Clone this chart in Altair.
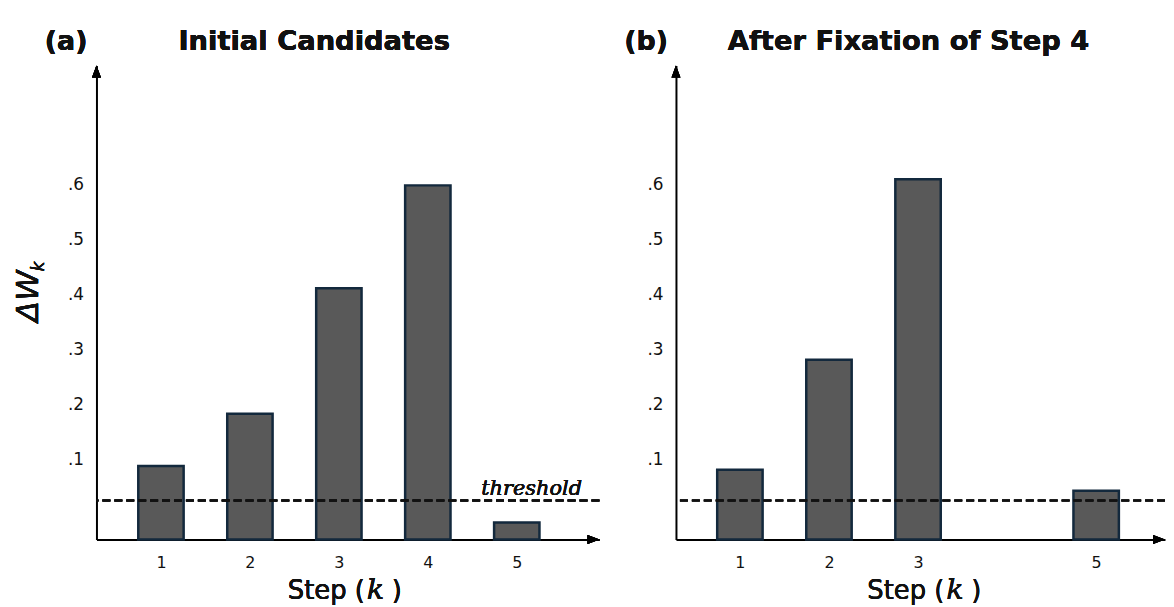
import altair as alt
import pandas as pd

# ---- data ----
steps_a = [1, 2, 3, 4, 5]
dw_a = [0.089, 0.184, 0.412, 0.599, -0.014]
steps_b = [1, 2, 3, 5]
dw_b = [0.082, 0.282, 0.610, 0.044]
threshold = 0.026
y_ticks = [0.1, 0.2, 0.3, 0.4, 0.5, 0.6]
y_dom = [-0.045, 0.817]
x_dom_a = [0.275, 5.929]
x_dom_b = [0.282, 5.773]
tag_a, title_a = "(a)", "Initial Candidates"
tag_b, title_b = "(b)", "After Fixation of Step 4"
x_title, x_title_var = "Step (", "k"
y_title, y_title_sub = "\u0394W", "k"
thr_label = "threshold"

FONT = "DejaVu Sans"
BAR_FILL = "#595959"
BAR_STROKE = "#13293d"
H = 477


def panel(steps, vals, xdom, width, tag, title, title_x, show_y_title, show_thr_label):
    df = pd.DataFrame({"k": steps, "dw": vals})
    xscale = alt.Scale(domain=xdom, nice=False, zero=False)
    yscale = alt.Scale(domain=y_dom, nice=False, zero=False)
    xaxis = alt.Axis(values=steps, format="d", labelFontSize=16, labelFont=FONT,
                     labelColor="#111", labelPadding=15, ticks=False, tickSize=0,
                     grid=False, domainColor="black", domainWidth=2, labelAngle=0,
                     labelFlush=False, title=None)
    yaxis = alt.Axis(values=y_ticks, labelExpr="'.' + round(datum.value * 10)",
                     labelFontSize=17, labelFont=FONT, labelColor="#111",
                     labelPadding=13, ticks=False, tickSize=0, grid=False,
                     domainColor="black", domainWidth=2, title=None)

    bars = alt.Chart(df).transform_calculate(
        x0="datum.k - 0.255", x1="datum.k + 0.255"
    ).mark_bar(fill=BAR_FILL, stroke=BAR_STROKE, strokeWidth=2.5).encode(
        x=alt.X("x0:Q", scale=xscale, axis=xaxis, title=None),
        x2="x1:Q",
        y=alt.Y("dw:Q", scale=yscale, axis=yaxis, title=None),
        y2=alt.Y2(datum=y_dom[0]),
    )

    rule = alt.Chart(df).mark_rule(color="#111", strokeWidth=2, strokeDash=[8, 4]).encode(
        y=alt.Y(datum=threshold, scale=yscale, axis=yaxis, title=None)
    )

    up = alt.Chart(df).mark_point(shape="M0,-1L-0.75,1L0.75,1Z", filled=True, color="black",
                                  opacity=1, size=144, yOffset=6, strokeWidth=0).encode(
        x=alt.X(datum=xdom[0], scale=xscale, axis=xaxis, title=None),
        y=alt.Y(datum=y_dom[1], scale=yscale, axis=yaxis, title=None),
    )
    right = alt.Chart(df).mark_point(shape="M1,0L-1,-0.75L-1,0.75Z", filled=True, color="black",
                                     opacity=1, size=144, xOffset=-6, strokeWidth=0).encode(
        x=alt.X(datum=xdom[1], scale=xscale, axis=xaxis, title=None),
        y=alt.Y(datum=y_dom[0], scale=yscale, axis=yaxis, title=None),
    )

    t_tag = alt.Chart(df).mark_text(text=tag, font=FONT, fontWeight="bold", fontSize=27,
                                    align="left", baseline="alphabetic", color="#111").encode(
        x=alt.value(-52), y=alt.value(-16))
    t_title = alt.Chart(df).mark_text(text=title, font=FONT, fontWeight="bold", fontSize=27.5,
                                      align="center", baseline="alphabetic", color="#111").encode(
        x=alt.value(title_x), y=alt.value(-16))

    xt1 = alt.Chart(df).mark_text(text=x_title, font=FONT, fontSize=26, align="right",
                                  baseline="alphabetic", color="#111").encode(
        x=alt.value(270), y=alt.value(537))
    xt2 = alt.Chart(df).mark_text(text=x_title_var, font="DejaVu Serif", fontStyle="italic",
                                  fontSize=29, align="left", baseline="alphabetic",
                                  color="#111").encode(x=alt.value(272), y=alt.value(537))
    xt3 = alt.Chart(df).mark_text(text=")", font=FONT, fontSize=26, align="left",
                                  baseline="alphabetic", color="#111").encode(
        x=alt.value(297), y=alt.value(537))

    layers = [bars, rule, up, right, t_tag, t_title, xt1, xt2, xt3]

    if show_y_title:
        yt1 = alt.Chart(df).mark_text(text=y_title, font=FONT, fontStyle="italic", fontSize=31,
                                      angle=270, align="left", baseline="alphabetic",
                                      color="#111").encode(x=alt.value(-59), y=alt.value(258))
        yt2 = alt.Chart(df).mark_text(text=y_title_sub, font=FONT, fontStyle="italic",
                                      fontSize=17, angle=270, align="left",
                                      baseline="alphabetic", color="#111").encode(
            x=alt.value(-53), y=alt.value(207))
        layers += [yt1, yt2]

    if show_thr_label:
        tl = alt.Chart(df).mark_text(text=thr_label, font="DejaVu Serif", fontStyle="italic",
                                     fontSize=21, align="left", baseline="alphabetic",
                                     dy=-6, color="#111").encode(
            x=alt.value(387),
            y=alt.Y(datum=threshold, scale=yscale, axis=yaxis, title=None))
        layers.append(tl)

    return alt.layer(*layers).properties(width=width, height=H)


left = panel(steps_a, dw_a, x_dom_a, 506, tag_a, title_a, 219, True, True)
right_p = panel(steps_b, dw_b, x_dom_b, 492, tag_b, title_b, 234, False, False)

chart = alt.hconcat(left, right_p, spacing=24).properties(
    padding={"left": 5, "top": 18, "right": 0, "bottom": 0}
).configure(background="white").configure_view(stroke=None, strokeWidth=0)

chart.save("out.html", embed_options={"renderer": "svg", "actions": False})
